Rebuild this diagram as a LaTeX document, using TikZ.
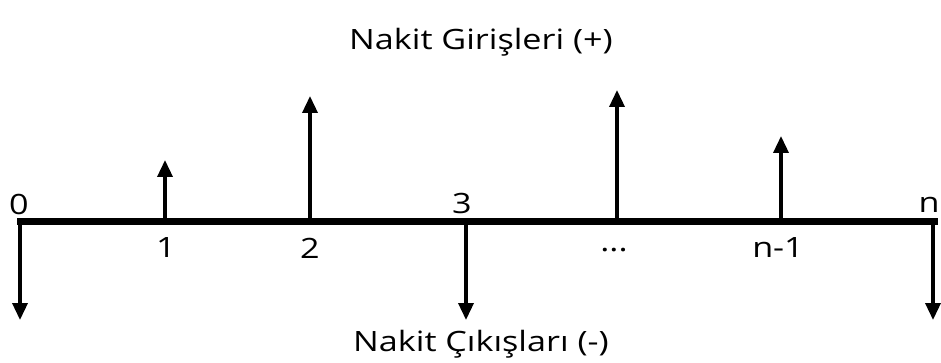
\documentclass[tikz,border=0pt]{standalone}
\usepackage{fontspec}
\setmainfont{Open Sans}[FakeStretch=1.22]
\usetikzlibrary{arrows.meta}
\begin{document}
\begin{tikzpicture}[x=1pt,y=-1pt,
  flow/.style={line width=3.5pt,-{Triangle[width=15pt,length=17pt]}},
  axisline/.style={line width=7pt},
  lbl/.style={font=\fontsize{28}{28}\selectfont,inner sep=0pt}]
\useasboundingbox (0,0) rectangle (941,363);
% axis points
\coordinate (a0) at (17,222);
\coordinate (an) at (938,222);
\coordinate (d0) at (20,222);
\coordinate (u1) at (165,222);
\coordinate (u2) at (310,222);
\coordinate (d3) at (466,222);
\coordinate (u4) at (617,222);
\coordinate (u5) at (781,222);
\coordinate (dn) at (933,222);
% tips
\coordinate (t0) at (20,320);
\coordinate (t1) at (165,160);
\coordinate (t2) at (310,96);
\coordinate (t3) at (466,320);
\coordinate (t4) at (617,90);
\coordinate (t5) at (781,136);
\coordinate (tn) at (933,320);
\draw[axisline] (a0) -- (an);
\draw[flow] (d0) -- (t0);
\draw[flow] (u1) -- (t1);
\draw[flow] (u2) -- (t2);
\draw[flow] (d3) -- (t3);
\draw[flow] (u4) -- (t4);
\draw[flow] (u5) -- (t5);
\draw[flow] (dn) -- (tn);
% labels
\node[lbl] (l0) at (19,204) {0};
\node[lbl] (l1) at (166,248) {1};
\node[lbl] (l2) at (310,248) {2};
\node[lbl] (l3) at (462,203) {3};
\node[lbl] (l4) at (614,250) {...};
\node[lbl] (l5) at (778,248) {n-1};
\node[lbl] (ln) at (929,205) {n};
\node[lbl] (top) at (481,42) {Nakit Girişleri (+)};
\node[lbl] (bot) at (481,344) {Nakit Çıkışları (-)};
\end{tikzpicture}
\end{document}
